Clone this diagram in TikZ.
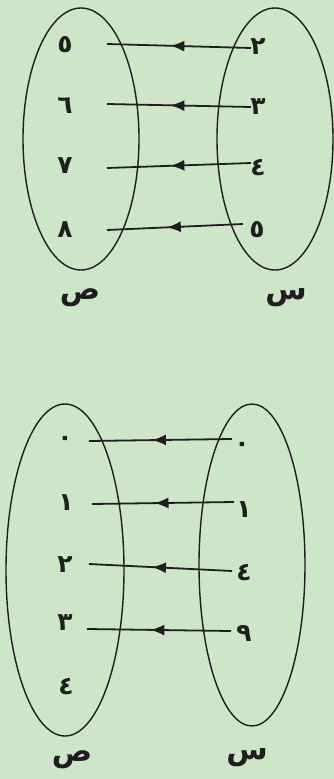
\documentclass[tikz,border=0pt]{standalone}
\usepackage{fontspec}
\newfontfamily\arabicfont[Script=Arabic]{DejaVu Sans}
\usetikzlibrary{decorations.markings,arrows.meta}
\definecolor{bg}{RGB}{207,229,201}
\definecolor{ink}{RGB}{30,30,30}
\tikzset{
  setell/.style={draw=ink,line width=1.4pt},
  num/.style={font=\arabicfont\bfseries\fontsize{25}{28}\selectfont,text=ink,inner sep=1pt},
  lbl/.style={font=\arabicfont\bfseries\fontsize{30}{34}\selectfont,text=ink,inner sep=0pt},
  maparrow/.style={draw=ink,line width=1.8pt,
    postaction={decorate},
    decoration={markings,mark=at position 0.56 with {\arrow{Latex[length=14pt,width=11pt]}}}}
}
\begin{document}
\begin{tikzpicture}[x=1pt,y=-1pt]
\fill[bg] (0,0) rectangle (334,779);
\useasboundingbox (0,0) rectangle (334,779);
% ---- top diagram
\draw[setell] (81,139) ellipse [x radius=58,y radius=131];
\draw[setell] (275,139) ellipse [x radius=58,y radius=131];
\node[num] (a1) at (65,45) {٥};
\node[num] (a2) at (65,106) {٦};
\node[num] (a3) at (65,166) {٧};
\node[num] (a4) at (65,230) {٨};
\node[num] (b1) at (258,47) {٢};
\node[num] (b2) at (258,107) {٣};
\node[num] (b3) at (258,168) {٤};
\node[num] (b4) at (257,230) {٥};
\coordinate (e1) at (107,44);
\coordinate (e2) at (107,104);
\coordinate (e3) at (107,168);
\coordinate (e4) at (107,230);
\coordinate (s1) at (251,48);
\coordinate (s2) at (251,107);
\coordinate (s3) at (251,163);
\coordinate (s4) at (243,224);
\draw[maparrow] (s1) -- (e1);
\draw[maparrow] (s2) -- (e2);
\draw[maparrow] (s3) -- (e3);
\draw[maparrow] (s4) -- (e4);
\node[lbl] (Y1) at (80,298) {ص};
\node[lbl] (X1) at (286,298) {س};
% ---- bottom diagram
\draw[setell] (65,570) ellipse [x radius=59,y radius=166];
\draw[setell] (252,565) ellipse [x radius=53,y radius=161];
\node[num] (c1) at (65,441) {٠};
\node[num] (c2) at (66,503) {١};
\node[num] (c3) at (65,565) {٢};
\node[num] (c4) at (65,623) {٣};
\node[num] (c5) at (66,687) {٤};
\node[num] (d1) at (242,447) {٠};
\node[num] (d2) at (244,510) {١};
\node[num] (d3) at (244,573) {٤};
\node[num] (d4) at (244,633) {٩};
\coordinate (f1) at (89,441);
\coordinate (f2) at (92,504);
\coordinate (f3) at (89,564);
\coordinate (f4) at (87,629);
\coordinate (t1) at (232,439);
\coordinate (t2) at (234,502);
\coordinate (t3) at (232,571);
\coordinate (t4) at (231,631);
\draw[maparrow] (t1) -- (f1);
\draw[maparrow] (t2) -- (f2);
\draw[maparrow] (t3) -- (f3);
\draw[maparrow] (t4) -- (f4);
\node[lbl] (Y2) at (72,760) {ص};
\node[lbl] (X2) at (247,758) {س};
\end{tikzpicture}
\end{document}
